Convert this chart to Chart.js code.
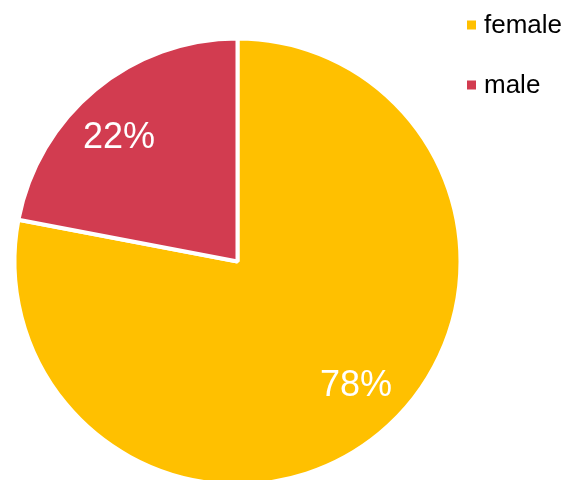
<!DOCTYPE html>
<html>
<head>
<meta charset="utf-8">
<script src="https://cdn.jsdelivr.net/npm/chart.js@4/dist/chart.umd.min.js"></script>
<style>
  html, body { margin: 0; padding: 0; background: #fff; overflow: hidden; }
  #wrap { width: 583px; height: 490px; }
</style>
</head>
<body>
<div id="wrap"><canvas id="myChart" width="583" height="490"></canvas></div>
<script>
var labels = ['female', 'male'];
var shares = [78, 22];
var colors = ['#FFC000', '#D23C50'];

// percent labels inside each slice
var sliceLabels = {
  id: 'sliceLabels',
  afterDatasetsDraw: function (chart) {
    var ctx = chart.ctx;
    var meta = chart.getDatasetMeta(0);
    var values = chart.data.datasets[0].data;
    var total = values.reduce(function (a, b) { return a + b; }, 0);
    ctx.save();
    ctx.fillStyle = '#fff';
    ctx.font = '36px "Liberation Sans", Arial, sans-serif';
    ctx.textAlign = 'center';
    ctx.textBaseline = 'alphabetic';
    meta.data.forEach(function (arc, i) {
      var p = arc.getProps(['x', 'y', 'startAngle', 'endAngle', 'outerRadius'], true);
      var mid = (p.startAngle + p.endAngle) / 2 - 4 * Math.PI / 180;
      var r = p.outerRadius * 0.77;
      var x = p.x + Math.cos(mid) * r;
      var y = p.y + Math.sin(mid) * r;
      var pct = Math.round(values[i] / total * 100) + '%';
      ctx.fillText(pct, x, y + 10.5);
    });
    ctx.restore();
  }
};

// small square legend in the top right corner
var cornerLegend = {
  id: 'cornerLegend',
  afterDraw: function (chart) {
    var ctx = chart.ctx;
    var ds = chart.data.datasets[0];
    ctx.save();
    ctx.font = '26px "Liberation Sans", Arial, sans-serif';
    ctx.textAlign = 'left';
    ctx.textBaseline = 'alphabetic';
    chart.data.labels.forEach(function (lab, i) {
      var y = 20.5 + i * 60;
      ctx.fillStyle = ds.backgroundColor[i];
      ctx.fillRect(467, y, 9, 9);
      ctx.fillStyle = '#000';
      ctx.fillText(lab, 484, y + 12);
    });
    ctx.restore();
  }
};

var options = {
  type: 'pie',
  data: {
    labels: labels,
    datasets: [{
      data: shares,
      backgroundColor: colors,
      borderColor: '#fff',
      borderWidth: 4
    }]
  },
  options: {
    responsive: false,
    animation: false,
    layout: {
      padding: { left: 12.5, right: 120.5, top: 36.5, bottom: 3.5 }
    },
    plugins: {
      legend: { display: false },
      tooltip: { enabled: false }
    }
  },
  plugins: [sliceLabels, cornerLegend]
};

var ctx = document.getElementById('myChart').getContext('2d');
new Chart(ctx, options);
</script>
</body>
</html>
